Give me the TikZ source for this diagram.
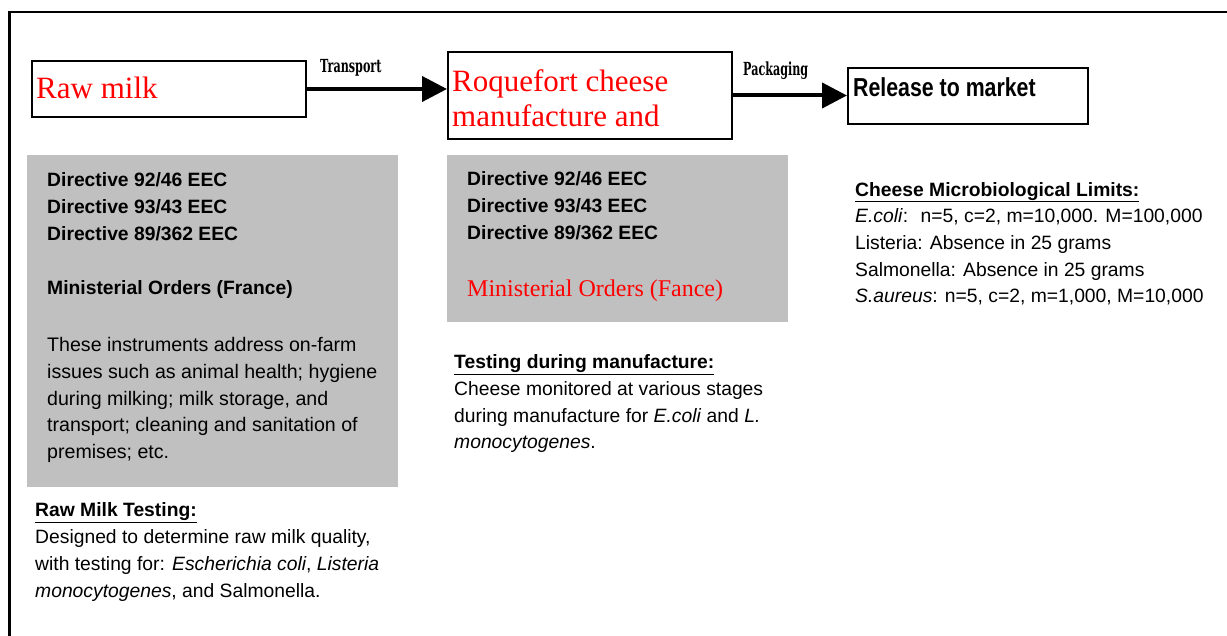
\documentclass[tikz,border=0pt]{standalone}
\usepackage{fontspec}
\setmainfont{Liberation Sans}
\newfontfamily\serif{Liberation Serif}
\newfontfamily\labfont[FakeStretch=0.62]{DejaVu Serif}
\newfontfamily\narrowfont[FakeStretch=0.82]{Liberation Sans}
\usetikzlibrary{arrows.meta}
\definecolor{panel}{RGB}{192,192,192}
\definecolor{pured}{RGB}{255,0,0}
\begin{document}
\begin{tikzpicture}[x=1pt,y=-1pt,
  box/.style={draw=black, line width=2pt, inner sep=0pt, anchor=north west},
  panelbox/.style={fill=panel, inner sep=0pt, anchor=north west},
  flow/.style={line width=4pt, -{Triangle[length=25pt,width=25pt]}},
  redtext/.style={text=pured, font=\serif\fontsize{31}{35}\selectfont, inner sep=0pt, anchor=base west, align=left},
  body/.style={font=\fontsize{19.3}{26.7}\selectfont, inner sep=0pt, anchor=base west, align=left},
  bodybold/.style={font=\bfseries\fontsize{19.3}{26.6}\selectfont, inner sep=0pt, anchor=base west, align=left},
  lab/.style={font=\labfont\bfseries\fontsize{18}{20}\selectfont, inner sep=0pt, anchor=base west}
]
\useasboundingbox (0,0) rectangle (1227,636);
\fill[white] (0,0) rectangle (1227,636);
% frame
\draw[line width=2.4pt] (1227,12.2) -- (9.3,12.2) -- (9.3,636);
% boxes
\node[box, minimum width=274pt, minimum height=56pt] (raw) at (31,60) {};
\node[box, minimum width=284pt, minimum height=87pt] (roq) at (447,51) {};
\node[box, minimum width=240pt, minimum height=56pt] (rel) at (847,67) {};
% panels
\node[panelbox, minimum width=371pt, minimum height=332pt] (p1) at (27,155) {};
\node[panelbox, minimum width=341pt, minimum height=167pt] (p2) at (447,155) {};
% arrows
\draw[flow] (raw.east) -- (raw.east -| roq.west);
\draw[flow] (roq.east) -- (roq.east -| rel.west);
\node[lab] (tr) at (320,72.5) {Transport};
\node[lab] (pk) at (743,76) {Packaging};
% box texts (base anchor = baseline of last line)
\node[redtext] (rawt) at (36,99) {Raw milk};
\node[redtext] (roqt) at (452,127) {Roquefort cheese\\manufacture and};
\node[font=\narrowfont\bfseries\fontsize{26}{28}\selectfont, anchor=base west, inner sep=0pt] (relt) at (853,97) {Release to market};
% panel 1
\node[bodybold] (d1) at (47,240.2) {Directive 92/46 EEC\\Directive 93/43 EEC\\Directive 89/362 EEC};
\node[bodybold] (m1) at (47,295) {Ministerial Orders (France)};
\node[body, font=\fontsize{19.6}{26.6}\selectfont] (b1) at (47,458.4) {These instruments address on-farm\\issues such as animal health; hygiene\\during milking; milk storage, and\\transport; cleaning and sanitation of\\premises; etc.};
% panel 2
\node[bodybold] (d2) at (467,239.2) {Directive 92/46 EEC\\Directive 93/43 EEC\\Directive 89/362 EEC};
\node[text=pured, font=\serif\fontsize{24}{26}\selectfont, inner sep=0pt, anchor=base west] (m2) at (467,297) {Ministerial Orders (Fance)};
% testing texts
\node[body] (tm) at (454,449) {\textbf{\underline{Testing during manufacture:}}\\Cheese monitored at various stages\\during manufacture for \textit{E.coli} and \textit{L.}\\\textit{monocytogenes}.};
\node[body] (rm) at (35,597) {\textbf{\underline{Raw Milk Testing:}}\\Designed to determine raw milk quality,\\with testing for: \textit{Escherichia coli}, \textit{Listeria}\\\textit{monocytogenes}, and Salmonella.};
\node[body] (cl) at (855,303) {\textbf{\underline{Cheese Microbiological Limits:}}\\\textit{E.coli}: \ n=5, c=2, m=10,000. M=100,000\\Listeria: Absence in 25 grams\\Salmonella: Absence in 25 grams\\\textit{S.aureus}: n=5, c=2, m=1,000, M=10,000};
\end{tikzpicture}
\end{document}
